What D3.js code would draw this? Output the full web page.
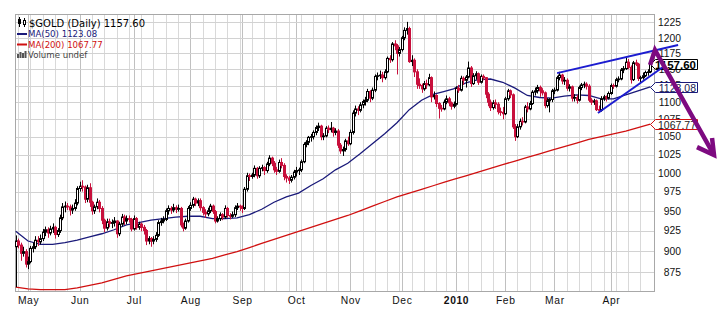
<!DOCTYPE html>
<html>
<head>
<meta charset="utf-8">
<script src="https://cdn.jsdelivr.net/npm/d3@7"></script>
<style>
  body { margin: 0; background: #fff; }
  svg { display: block; }
</style>
</head>
<body>
<svg id="chart" width="725" height="330"></svg>
<script>
// $GOLD daily candles, 24 Apr 2009 – 23 Apr 2010 (one row of ten sessions per line)
const opens = [
  905,912,907,897,899,884,887,903,905,913,
  911,915,923,926,922,927,929,920,925,941,
  955,956,955,951,953,960,979,982,981,965,
  980,961,950,955,961,953,938,928,936,934,
  935,937,921,933,942,937,940,939,927,940,
  929,933,929,925,912,915,912,914,919,935,
  937,939,950,953,951,954,952,953,932,928,
  937,953,957,965,960,963,954,948,946,950,
  956,949,937,940,945,942,953,944,943,945,
  954,956,955,953,978,996,995,997,1006,996,
  1006,1007,1003,1012,1020,1013,1004,1002,1014,1010,
  995,993,990,994,1001,1003,1004,1015,1039,1042,
  1049,1050,1056,1063,1065,1050,1051,1062,1060,1062,
  1056,1058,1038,1030,1032,1044,1040,1056,1084,1090,
  1088,1096,1101,1103,1116,1106,1118,1139,1140,1141,
  1137,1146,1167,1165,1190,1187,1175,1181,1200,1212,
  1215,1162,1164,1146,1127,1125,1120,1128,1126,1137,
  1108,1110,1098,1091,1090,1100,1105,1099,1094,1097,
  1121,1118,1136,1133,1138,1152,1128,1140,1143,1130,
  1139,1137,1112,1100,1092,1099,1097,1086,1085,1083,
  1105,1117,1111,1064,1050,1064,1072,1071,1093,1090,
  1098,1115,1117,1122,1117,1114,1095,1102,1104,1117,
  1118,1137,1141,1132,1133,1121,1123,1106,1107,1103,
  1122,1126,1127,1124,1103,1100,1102,1089,1088,1105,
  1108,1106,1113,1125,1124,1134,1135,1149,1151,1161,
  1153,1134,1160,1158,1136,1137,1140,1145,1146
];
const highs = [
  919,915,910,905,902,893,906,910,918,918,
  920,927,930,929,931,934,931,928,945,960,
  962,960,958,958,965,982,988,990,983,984,
  986,963,958,966,964,956,940,940,940,939,
  942,938,936,946,945,944,944,941,944,942,
  936,935,932,927,918,917,918,923,938,941,
  943,953,957,956,959,957,958,955,935,940,
  956,961,968,967,966,966,956,952,954,959,
  958,951,943,948,947,957,955,947,949,957,
  960,958,957,981,1000,999,1000,1010,1008,1009,
  1011,1009,1015,1024,1022,1016,1008,1018,1020,1013,
  998,996,997,1004,1008,1007,1018,1042,1045,1051,
  1054,1059,1066,1070,1067,1055,1065,1066,1071,1064,
  1062,1061,1041,1036,1047,1050,1060,1088,1095,1094,
  1100,1104,1108,1120,1118,1122,1142,1145,1148,1146,
  1150,1170,1172,1193,1196,1190,1185,1203,1217,1226,
  1218,1172,1167,1150,1136,1128,1132,1134,1143,1139,
  1116,1112,1100,1096,1104,1110,1108,1101,1101,1124,
  1126,1140,1139,1141,1162,1155,1144,1147,1145,1142,
  1142,1138,1115,1104,1103,1104,1100,1092,1093,1108,
  1120,1119,1113,1068,1068,1076,1078,1096,1100,1102,
  1118,1122,1126,1125,1121,1116,1106,1106,1120,1122,
  1140,1146,1143,1138,1136,1127,1125,1112,1111,1125,
  1129,1131,1130,1127,1106,1105,1104,1095,1109,1111,
  1110,1116,1128,1128,1137,1139,1152,1155,1168,1166,
  1156,1163,1165,1160,1140,1145,1148,1150,1160
];
const lows = [
  857,903,888,893,880,878,885,898,902,906,
  908,912,918,916,919,922,915,917,922,938,
  948,951,944,946,950,957,975,975,960,961,
  955,945,946,952,948,933,923,925,929,928,
  930,916,918,930,932,933,935,924,925,926,
  926,924,920,907,908,905,908,911,917,931,
  934,937,945,946,948,947,949,929,924,926,
  935,950,954,956,956,950,944,941,943,947,
  946,934,935,937,938,940,941,939,941,942,
  951,950,947,951,975,989,992,994,992,993,
  1002,997,1000,1009,1009,1000,997,1000,1006,990,
  987,985,987,991,995,997,1001,1013,1035,1038,
  1043,1046,1052,1058,1045,1045,1049,1055,1056,1050,
  1052,1034,1026,1023,1029,1037,1038,1053,1079,1081,
  1085,1091,1095,1100,1100,1103,1115,1133,1135,1130,
  1134,1144,1160,1162,1180,1142,1170,1178,1196,1205,
  1160,1155,1138,1120,1120,1114,1117,1120,1124,1100,
  1104,1093,1076,1086,1088,1097,1094,1089,1091,1095,
  1114,1116,1126,1122,1136,1123,1126,1134,1126,1128,
  1133,1106,1094,1087,1089,1090,1082,1080,1075,1081,
  1102,1106,1061,1044,1048,1060,1066,1069,1085,1088,
  1096,1110,1113,1108,1110,1091,1092,1085,1100,1112,
  1116,1133,1127,1126,1117,1116,1101,1101,1098,1101,
  1118,1121,1119,1100,1096,1096,1087,1085,1086,1102,
  1101,1104,1111,1120,1122,1130,1133,1144,1149,1150,
  1128,1132,1155,1132,1128,1134,1138,1140,1144
];
const closes = [
  912,907,897,899,884,887,903,905,913,911,
  915,923,926,922,927,929,920,925,941,955,
  956,955,951,953,960,979,982,981,965,980,
  961,950,955,961,953,938,928,936,934,935,
  937,921,933,942,937,940,939,927,940,929,
  933,929,925,912,915,912,914,919,935,937,
  939,950,953,951,954,952,953,932,928,937,
  953,957,965,960,963,954,948,946,950,956,
  949,937,940,945,942,953,944,943,945,954,
  956,955,953,978,996,995,997,1006,996,1006,
  1007,1003,1012,1020,1013,1004,1002,1014,1010,995,
  993,990,994,1001,1003,1004,1015,1039,1042,1049,
  1050,1056,1063,1065,1050,1051,1062,1060,1062,1056,
  1058,1038,1030,1032,1044,1040,1056,1084,1090,1088,
  1096,1101,1103,1116,1106,1118,1139,1140,1141,1137,
  1146,1167,1165,1190,1187,1175,1181,1200,1212,1215,
  1162,1164,1146,1127,1125,1120,1128,1126,1137,1108,
  1110,1098,1091,1090,1100,1105,1099,1094,1097,1121,
  1118,1136,1133,1138,1152,1128,1140,1143,1130,1139,
  1137,1112,1100,1092,1099,1097,1086,1085,1083,1105,
  1117,1111,1064,1050,1064,1072,1071,1093,1090,1098,
  1115,1117,1122,1117,1114,1095,1102,1104,1117,1118,
  1137,1141,1132,1133,1121,1123,1106,1107,1103,1122,
  1126,1127,1124,1103,1100,1102,1089,1088,1105,1108,
  1106,1113,1125,1124,1134,1135,1149,1151,1161,1153,
  1134,1160,1158,1136,1137,1140,1145,1146,1157.60
];

// Moving averages, sampled at the end of each trading week (session index)
const maIndex = [0,5,10,15,20,25,30,35,40,45,50,55,60,65,70,75,80,85,90,95,
  100,105,110,115,120,125,130,135,140,145,150,155,160,165,170,174,178,
  183,188,193,198,203,208,213,218,223,228,233,238,243,248,253,258];
const ma50 = [924,912,908,908,910,913,917,921,926,932,935,938,940,942,943,943,940,940,941,945,
  952,961,968,973,983,992,1004,1013,1026,1040,1054,1070,1089,1103,1112,1116,1120,
  1129,1134,1135,1130,1121,1110,1107,1106,1109,1111,1110,1105,1105,1111,1117,1123.08];
const ma200 = [857,855,854,854,854,856,859,862,866,870,873,876,879,882,885,888,891,895,899,904,
  909,914,919,924,929,934,939,944,950,956,962,968,973,978,983,987,991,
  996,1001,1006,1011,1016,1021,1026,1031,1036,1041,1046,1050,1054,1058,1063,1067.77];

// Axis labels
const priceTicks = [875,900,925,950,975,1000,1025,1050,1075,1100,1125,1150,1175,1200,1225];
const monthLabels = ["May","Jun","Jul","Aug","Sep","Oct","Nov","Dec","2010","Feb","Mar","Apr"];

// Hand-drawn annotations as [session index, price]
const upperTrend = [[220.1,1144],[269.3,1188.3]];
const lowerTrend = [[236.7,1084],[263.2,1153.5]];
const arrowLine = [[257.9,1156.6],[259.9,1180.3],[283.9,1024.2]];
const arrowHead = [[276.99,1035.3],[283.9,1024.2],[283.1,1048]];

// Trading calendar: weekdays, market closed on 25 Dec and 1 Jan
const dates = [];
{
  const d = new Date(2009, 3, 24);
  while (dates.length < closes.length) {
    const wd = d.getDay(), md = (d.getMonth() + 1) * 100 + d.getDate();
    if (wd !== 0 && wd !== 6 && md !== 1225 && md !== 101) dates.push(new Date(d));
    d.setDate(d.getDate() + 1);
  }
}
const monthStarts = [], weekStarts = [];
dates.forEach((dt, i) => {
  if (i > 0 && dt.getMonth() !== dates[i - 1].getMonth()) monthStarts.push(i);
  else if (i > 0 && dt.getDay() < dates[i - 1].getDay()) weekStarts.push(i);
});

const bars = closes.map((c, i) => ({
  i, o: opens[i], h: highs[i], l: lows[i], c,
  prev: i > 0 ? closes[i - 1] : opens[i]
}));

const plot = { left: 15, right: 654, top: 14, bottom: 291 };
const svg = d3.select("#chart");
const x = d3.scaleLinear().domain([-0.3, 259.5]).range([plot.left, plot.right]);
const y = d3.scaleLog().domain([852.5, 1239.1]).range([plot.bottom, plot.top]);
const px = v => Math.round(x(v)) + 0.5;

const RED = "#c8103c";

// grid
const grid = svg.append("g");
grid.selectAll(".wk").data(weekStarts).join("line")
  .attr("x1", px).attr("x2", px).attr("y1", plot.top).attr("y2", plot.bottom)
  .attr("stroke", "#d9d9d9").attr("stroke-width", 1);
grid.selectAll(".mo").data(monthStarts).join("line")
  .attr("x1", px).attr("x2", px).attr("y1", plot.top).attr("y2", plot.bottom)
  .attr("stroke", "#c0c0c0").attr("stroke-width", 1);
grid.selectAll(".hz").data(priceTicks).join("line")
  .attr("x1", plot.left).attr("x2", plot.right)
  .attr("y1", d => Math.round(y(d)) + 0.5).attr("y2", d => Math.round(y(d)) + 0.5)
  .attr("stroke", "#d2d2d2").attr("stroke-width", 1);
svg.append("rect")
  .attr("x", plot.left + 0.5).attr("y", plot.top + 0.5)
  .attr("width", plot.right - plot.left).attr("height", plot.bottom - plot.top)
  .attr("fill", "none").attr("stroke", "#a8a8a8");

// moving averages
const maLine = vals => d3.line().x((d, k) => x(maIndex[k])).y(d => y(d))(vals);
svg.append("path").attr("d", maLine(ma200)).attr("fill", "none")
  .attr("stroke", "#d01010").attr("stroke-width", 1.3);
svg.append("path").attr("d", maLine(ma50)).attr("fill", "none")
  .attr("stroke", "#1a1a7a").attr("stroke-width", 1.3);

// candles
const candles = svg.append("g");
bars.forEach(b => {
  const col = b.c >= b.prev ? "#000" : RED;
  const cx = Math.round(x(b.i));
  candles.append("line")
    .attr("x1", cx + 0.5).attr("x2", cx + 0.5)
    .attr("y1", y(b.h)).attr("y2", y(b.l))
    .attr("stroke", col).attr("stroke-width", 1);
  const top = y(Math.max(b.o, b.c)), bot = y(Math.min(b.o, b.c));
  candles.append("rect")
    .attr("x", cx - 0.5).attr("width", 2)
    .attr("y", top).attr("height", Math.max(bot - top, 0.6))
    .attr("fill", b.c > b.o ? "#fff" : col)
    .attr("stroke", col).attr("stroke-width", 1);
});

// right price axis
const yAxis = svg.append("g").attr("transform", `translate(${plot.right},0)`)
  .call(d3.axisRight(y).tickValues(priceTicks).tickSize(0).tickFormat(d3.format("d")));
yAxis.select(".domain").remove();
yAxis.selectAll("text")
  .attr("x", 27).attr("text-anchor", "end")
  .style("font-family", "'Liberation Sans', Arial, sans-serif")
  .style("font-size", "10.3px").attr("fill", "#111");

// month axis
const xAxis = svg.append("g").attr("transform", `translate(0,${plot.bottom})`)
  .call(d3.axisBottom(x).tickValues(monthStarts).tickSize(0)
    .tickFormat((d, k) => monthLabels[k]));
xAxis.select(".domain").remove();
xAxis.selectAll("text")
  .attr("y", 13).attr("dy", 0)
  .style("font-family", "'Liberation Sans', Arial, sans-serif")
  .style("font-size", "10.3px").style("letter-spacing", "0.6px")
  .style("font-weight", d => dates[d].getMonth() === 0 ? "bold" : "normal")
  .attr("fill", "#111");

// last-value tags, drawn over the price labels they sit on
function tag(val, stroke, textColor, bold) {
  const yc = Math.round(y(val)) + 0.5;
  const x0 = 650.5, x1 = 697.5;
  svg.append("path")
    .attr("d", `M${x0},${yc} L${x0 + 5},${yc - 5} L${x1},${yc - 5} L${x1},${yc + 5} L${x0 + 5},${yc + 5} Z`)
    .attr("fill", "#fff").attr("stroke", stroke).attr("stroke-width", 1);
  svg.append("text").attr("x", x1 - 1.5).attr("y", yc + 4)
    .attr("text-anchor", "end")
    .style("font-family", "'Liberation Sans', Arial, sans-serif")
    .style("font-size", bold ? "11.5px" : "10.5px")
    .style("font-weight", bold ? "bold" : "normal")
    .attr("fill", textColor).text(d3.format(".2f")(val));
}
tag(ma200[ma200.length - 1], "#d01010", "#222", false);
tag(ma50[ma50.length - 1], "#1a1a7a", "#1a1a50", false);
tag(closes[closes.length - 1], "#000", "#000", true);

// trend lines
const pts = d3.line().x(d => x(d[0])).y(d => y(d[1]));
[upperTrend, lowerTrend].forEach(t =>
  svg.append("path").attr("d", pts(t)).attr("fill", "none")
    .attr("stroke", "#1c1cd0").attr("stroke-width", 2));

// arrow
svg.append("path").attr("d", pts(arrowLine)).attr("fill", "none")
  .attr("stroke", "#7d0a80").attr("stroke-width", 4.5)
  .attr("stroke-linejoin", "miter").attr("stroke-linecap", "butt");
svg.append("path").attr("d", pts(arrowHead)).attr("fill", "none")
  .attr("stroke", "#7d0a80").attr("stroke-width", 4.5)
  .attr("stroke-linejoin", "miter");

// legend
const lg = svg.append("g");
// candlestick glyph
lg.append("line").attr("x1", 19.5).attr("x2", 19.5).attr("y1", 17).attr("y2", 27).attr("stroke", "#000");
lg.append("rect").attr("x", 18).attr("y", 19).attr("width", 3).attr("height", 5).attr("fill", "#000");
lg.append("line").attr("x1", 24.5).attr("x2", 24.5).attr("y1", 18).attr("y2", 27).attr("stroke", "#000");
lg.append("rect").attr("x", 23.5).attr("y", 20.5).attr("width", 2).attr("height", 4).attr("fill", "#fff").attr("stroke", "#000");
lg.append("text").attr("x", 29).attr("y", 27)
  .style("font-family", "'DejaVu Sans', Verdana, sans-serif").style("font-size", "10px")
  .attr("fill", "#000").text("$GOLD (Daily) " + d3.format(".2f")(closes[closes.length - 1]));
const rows = [
  { y: 37, col: "#1a1a7a", txt: "MA(50) " + d3.format(".2f")(ma50[ma50.length - 1]) },
  { y: 47.5, col: "#d01010", txt: "MA(200) " + d3.format(".2f")(ma200[ma200.length - 1]) }
];
rows.forEach(r => {
  lg.append("rect").attr("x", 17).attr("y", r.y - 4).attr("width", 10).attr("height", 2).attr("fill", r.col);
  lg.append("text").attr("x", 28).attr("y", r.y)
    .style("font-family", "'DejaVu Sans', Verdana, sans-serif").style("font-size", "8.6px")
    .attr("fill", r.col).text(r.txt);
});
[[17, 4], [19.5, 6], [22, 5], [24.5, 7]].forEach(([bx, bh]) =>
  lg.append("rect").attr("x", bx).attr("y", 58 - bh).attr("width", 2).attr("height", bh).attr("fill", "#555"));
lg.append("text").attr("x", 28).attr("y", 58)
  .style("font-family", "'DejaVu Sans', Verdana, sans-serif").style("font-size", "8.6px")
  .attr("fill", "#444").text("Volume undef");
</script>
</body>
</html>
